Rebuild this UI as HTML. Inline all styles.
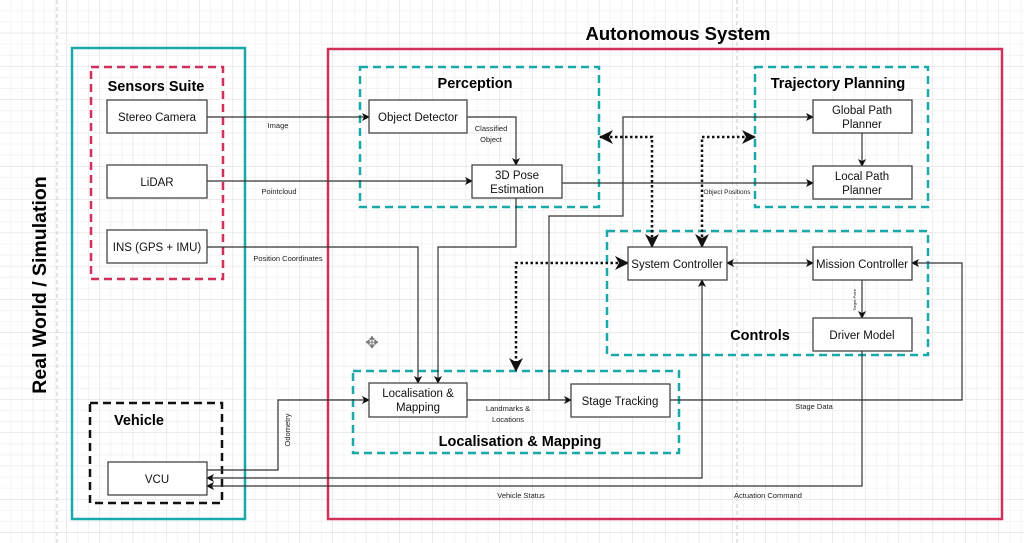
<!DOCTYPE html>
<html><head><meta charset="utf-8"><style>
html,body{margin:0;padding:0;background:#fff;}
svg{display:block;font-family:"Liberation Sans",Arial,sans-serif;}
</style></head><body>
<svg width="1024" height="543" viewBox="0 0 1024 543" xmlns="http://www.w3.org/2000/svg">
<defs>
<pattern id="minor" width="11.1" height="11.1" patternUnits="userSpaceOnUse"><path d="M11.1 0V11.1H0" fill="none" stroke="#e9e9e9" stroke-width="1"/></pattern>
<pattern id="major" width="33.3" height="33.3" patternUnits="userSpaceOnUse"><rect width="33.3" height="33.3" fill="url(#minor)"/><path d="M33.3 0V33.3H0" fill="none" stroke="#d9d9d9" stroke-width="1"/></pattern>
<marker id="a" markerWidth="8" markerHeight="8" refX="7" refY="4" orient="auto" markerUnits="userSpaceOnUse"><path d="M0,0L8,4L0,8L2,4z" fill="#111"/></marker>
<marker id="as" markerWidth="8" markerHeight="8" refX="1" refY="4" orient="auto" markerUnits="userSpaceOnUse"><path d="M8,0L0,4L8,8L6,4z" fill="#111"/></marker>
<marker id="b" markerWidth="14" markerHeight="14" refX="13" refY="7" orient="auto" markerUnits="userSpaceOnUse"><path d="M0,0L14,7L0,14L4,7z" fill="#111"/></marker>
<marker id="bs" markerWidth="14" markerHeight="14" refX="1" refY="7" orient="auto" markerUnits="userSpaceOnUse"><path d="M14,0L0,7L14,14L10,7z" fill="#111"/></marker>
</defs>
<rect width="1024" height="543" fill="url(#major)"/>
<line x1="57" y1="0" x2="57" y2="543" stroke="#c8c8c8" stroke-dasharray="4,3"/>
<line x1="737" y1="0" x2="737" y2="543" stroke="#c8c8c8" stroke-dasharray="4,3"/>

<rect x="72" y="48" width="173" height="471" fill="none" stroke="#1aa9a9" stroke-width="2.5"/>
<rect x="328" y="49" width="674" height="470" fill="none" stroke="#d0305a" stroke-width="2.5"/>
<text x="678" y="40" font-size="18.5" font-weight="bold" text-anchor="middle">Autonomous System</text>
<text transform="translate(46,285) rotate(-90)" font-size="19.5" font-weight="bold" text-anchor="middle">Real World / Simulation</text>

<g fill="none" stroke-width="2.5" stroke-dasharray="8,5">
<rect x="91" y="67" width="132" height="212" stroke="#d0305a"/>
<rect x="90" y="403" width="132" height="100" stroke="#111"/>
<rect x="360" y="67" width="239" height="140" stroke="#1aa9a9"/>
<rect x="755" y="67" width="173" height="140" stroke="#1aa9a9"/>
<rect x="607" y="231" width="321" height="124" stroke="#1aa9a9"/>
<rect x="353" y="371" width="326" height="82" stroke="#1aa9a9"/>
</g>
<g font-size="14.5" font-weight="bold" text-anchor="middle">
<text x="156" y="91">Sensors Suite</text>
<text x="139" y="425">Vehicle</text>
<text x="475" y="88">Perception</text>
<text x="838" y="88">Trajectory Planning</text>
<text x="760" y="340">Controls</text>
<text x="520" y="446">Localisation &amp; Mapping</text>
</g>

<g fill="none" stroke="#333" stroke-width="1.2">
<path d="M207 117H369" marker-end="url(#a)"/>
<path d="M207 181H472" marker-end="url(#a)"/>
<path d="M467 117H516V165" marker-end="url(#a)"/>
<path d="M207 247H418V383" marker-end="url(#a)"/>
<path d="M516 198V247H438V383" marker-end="url(#a)"/>
<path d="M562 183H813" marker-end="url(#a)"/>
<path d="M467 400H571" marker-end="url(#a)"/>
<path d="M549 400V216H623V117H813" marker-end="url(#a)"/>
<path d="M862 133V166" marker-end="url(#a)"/>
<path d="M727 263H813" marker-start="url(#as)" marker-end="url(#a)"/>
<path d="M862 280V318" marker-end="url(#a)"/>
<path d="M670 400H962V263H912" marker-end="url(#a)"/>
<path d="M702 280V478H207" marker-start="url(#as)" marker-end="url(#a)"/>
<path d="M862 351V486H207" marker-end="url(#a)"/>
<path d="M207 470H278V400H369" marker-end="url(#a)"/>
</g>
<g fill="none" stroke="#111" stroke-width="2.5" stroke-dasharray="2.5,2.5">
<path d="M600 137H652V247" marker-start="url(#bs)" marker-end="url(#b)"/>
<path d="M702 247V137H755" marker-start="url(#bs)" marker-end="url(#b)"/>
<path d="M628 263H516V371" marker-start="url(#bs)" marker-end="url(#b)"/>
</g>

<g fill="#fff" stroke="#444" stroke-width="1.3">
<rect x="107" y="100" width="100" height="33"/>
<rect x="107" y="165" width="100" height="33"/>
<rect x="107" y="230" width="100" height="33"/>
<rect x="108" y="462" width="99" height="33"/>
<rect x="369" y="100" width="98" height="33"/>
<rect x="472" y="165" width="90" height="33"/>
<rect x="813" y="100" width="99" height="33"/>
<rect x="813" y="166" width="99" height="33"/>
<rect x="628" y="247" width="99" height="33"/>
<rect x="813" y="247" width="99" height="33"/>
<rect x="813" y="318" width="99" height="33"/>
<rect x="369" y="383" width="98" height="34"/>
<rect x="571" y="384" width="99" height="33"/>
</g>
<g font-size="11.5" text-anchor="middle" fill="#111">
<text x="157" y="121">Stereo Camera</text>
<text x="157" y="186">LiDAR</text>
<text x="157" y="251">INS (GPS + IMU)</text>
<text x="157" y="483">VCU</text>
<text x="418" y="121">Object Detector</text>
<text x="517" y="179">3D Pose</text><text x="517" y="193">Estimation</text>
<text x="862" y="114">Global Path</text><text x="862" y="128">Planner</text>
<text x="862" y="180">Local Path</text><text x="862" y="194">Planner</text>
<text x="677" y="268">System Controller</text>
<text x="862" y="268">Mission Controller</text>
<text x="862" y="339">Driver Model</text>
<text x="418" y="397">Localisation &amp;</text><text x="418" y="411">Mapping</text>
<text x="620" y="405">Stage Tracking</text>
</g>
<g font-size="7.5" text-anchor="middle" fill="#222">
<text x="278" y="128">Image</text>
<text x="279" y="194">Pointcloud</text>
<text x="288" y="261">Position Coordinates</text>
<text x="491" y="131">Classified</text><text x="491" y="142">Object</text>
<text x="727" y="194" font-size="6.5">Object Positions</text>
<text x="508" y="411">Landmarks &amp;</text><text x="508" y="422">Locations</text>
<text x="814" y="409">Stage Data</text>
<text x="521" y="498">Vehicle Status</text>
<text x="768" y="498">Actuation Command</text>
<text transform="translate(290,430) rotate(-90)">Odometry</text>
<text transform="translate(856,300) rotate(-90)" font-size="4">Target Point</text>
</g>
<text x="372" y="348" font-size="16" text-anchor="middle" fill="#777">✥</text>
</svg>
</body></html>
